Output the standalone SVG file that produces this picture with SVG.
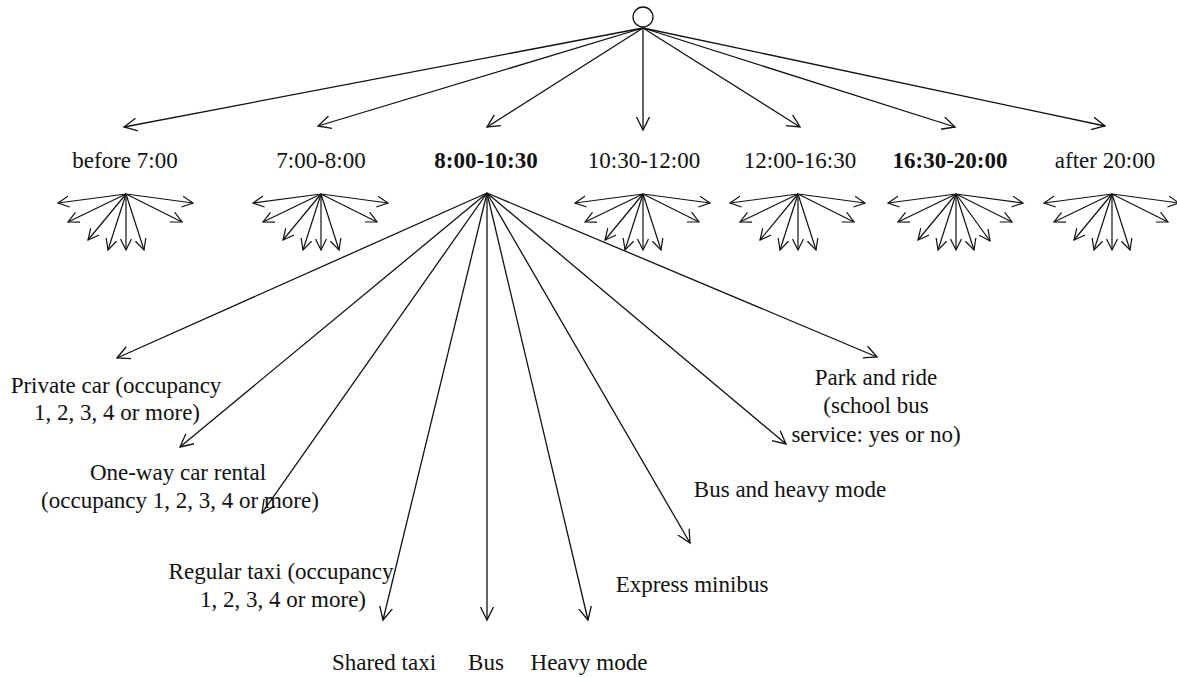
<svg xmlns="http://www.w3.org/2000/svg" xmlns:xlink="http://www.w3.org/1999/xlink" width="1177" height="678" viewBox="0 0 1177 678">
  <style>
    .lbl { font-family: "Liberation Serif", "Times New Roman", serif; font-size: 23px; fill: #111; text-anchor: middle; }
    .bold { font-weight: bold; }
    .edge { stroke: #111; stroke-width: 1.3; fill: none; marker-end: url(#head); }
    .twig { stroke: #111; stroke-width: 1.2; fill: none; marker-end: url(#headSmall); }
  </style>
  <defs>
    <marker id="head" markerUnits="userSpaceOnUse" markerWidth="18" markerHeight="18" refX="13" refY="7" orient="auto">
      <path d="M0,0.5 L13,7 L0,13.5" fill="none" stroke="#111" stroke-width="1.3"/>
    </marker>
    <marker id="headSmall" markerUnits="userSpaceOnUse" markerWidth="16" markerHeight="16" refX="11" refY="6" orient="auto">
      <path d="M0,0.5 L11,6 L0,11.5" fill="none" stroke="#111" stroke-width="1.2"/>
    </marker>
    <!-- collapsed sub-tree: eight mode branches from one apex -->
    <g id="fan8">
      <line class="twig" x1="0" y1="0" x2="-68" y2="9"/>
      <line class="twig" x1="0" y1="0" x2="-58" y2="28"/>
      <line class="twig" x1="0" y1="0" x2="-38" y2="46"/>
      <line class="twig" x1="0" y1="0" x2="-18" y2="56"/>
      <line class="twig" x1="0" y1="0" x2="0" y2="56"/>
      <line class="twig" x1="0" y1="0" x2="18" y2="56"/>
      <line class="twig" x1="0" y1="0" x2="56" y2="28"/>
      <line class="twig" x1="0" y1="0" x2="67" y2="9"/>
    </g>
  </defs>

  <!-- root -->
  <g id="root">
    <circle cx="643" cy="17" r="10" fill="#fff" stroke="#111" stroke-width="1.3"/>
  </g>

  <!-- connectors -->
  <g id="connectors">
    <!-- root to time periods -->
    <line class="edge" x1="643" y1="28" x2="124" y2="127"/>
    <line class="edge" x1="643" y1="28" x2="318" y2="126"/>
    <line class="edge" x1="643" y1="28" x2="487" y2="127"/>
    <line class="edge" x1="643" y1="28" x2="643" y2="130"/>
    <line class="edge" x1="643" y1="28" x2="800" y2="127"/>
    <line class="edge" x1="643" y1="28" x2="955" y2="127"/>
    <line class="edge" x1="643" y1="28" x2="1105" y2="126"/>
    <!-- 8:00-10:30 to modes -->
    <line class="edge" x1="487" y1="193" x2="117" y2="358"/>
    <line class="edge" x1="487" y1="193" x2="180" y2="447"/>
    <line class="edge" x1="487" y1="193" x2="262" y2="513"/>
    <line class="edge" x1="487" y1="193" x2="383" y2="620"/>
    <line class="edge" x1="487" y1="193" x2="487" y2="620"/>
    <line class="edge" x1="487" y1="193" x2="588" y2="620"/>
    <line class="edge" x1="487" y1="193" x2="690" y2="543"/>
    <line class="edge" x1="487" y1="193" x2="786" y2="444"/>
    <line class="edge" x1="487" y1="193" x2="877" y2="357"/>
    <!-- collapsed mode branches of the other periods -->
    <use xlink:href="#fan8" href="#fan8" x="126" y="194"/>
    <use xlink:href="#fan8" href="#fan8" x="321" y="194"/>
    <use xlink:href="#fan8" href="#fan8" x="643" y="194"/>
    <use xlink:href="#fan8" href="#fan8" x="798" y="194"/>
    <use xlink:href="#fan8" href="#fan8" x="956" y="194"/>
    <line class="twig" x1="956" y1="194" x2="990" y2="241"/>
    <use xlink:href="#fan8" href="#fan8" x="1112" y="194"/>
  </g>

  <!-- time periods -->
  <g id="t-before7"><text class="lbl" x="125" y="168">before 7:00</text></g>
  <g id="t-7-8"><text class="lbl" x="321" y="168">7:00-8:00</text></g>
  <g id="t-8-1030"><text class="lbl bold" x="486" y="168">8:00-10:30</text></g>
  <g id="t-1030-12"><text class="lbl" x="644" y="168">10:30-12:00</text></g>
  <g id="t-12-1630"><text class="lbl" x="800" y="168">12:00-16:30</text></g>
  <g id="t-1630-20"><text class="lbl bold" x="950" y="168">16:30-20:00</text></g>
  <g id="t-after20"><text class="lbl" x="1105" y="168">after 20:00</text></g>

  <!-- modes -->
  <g id="m-private-car">
    <text class="lbl" x="116" y="393">Private car (occupancy</text>
    <text class="lbl" x="117" y="420">1, 2, 3, 4 or more)</text>
  </g>
  <g id="m-car-rental">
    <text class="lbl" x="178" y="480">One-way car rental</text>
    <text class="lbl" x="180" y="508">(occupancy 1, 2, 3, 4 or more)</text>
  </g>
  <g id="m-regular-taxi">
    <text class="lbl" x="281" y="579">Regular taxi (occupancy</text>
    <text class="lbl" x="283" y="607">1, 2, 3, 4 or more)</text>
  </g>
  <g id="m-shared-taxi"><text class="lbl" x="384" y="670">Shared taxi</text></g>
  <g id="m-bus"><text class="lbl" x="486" y="670">Bus</text></g>
  <g id="m-heavy"><text class="lbl" x="589" y="670">Heavy mode</text></g>
  <g id="m-express"><text class="lbl" x="692" y="592">Express minibus</text></g>
  <g id="m-bus-heavy"><text class="lbl" x="790" y="497">Bus and heavy mode</text></g>
  <g id="m-park-ride">
    <text class="lbl" x="876" y="385">Park and ride</text>
    <text class="lbl" x="876" y="413">(school bus</text>
    <text class="lbl" x="876" y="442">service: yes or no)</text>
  </g>
</svg>
